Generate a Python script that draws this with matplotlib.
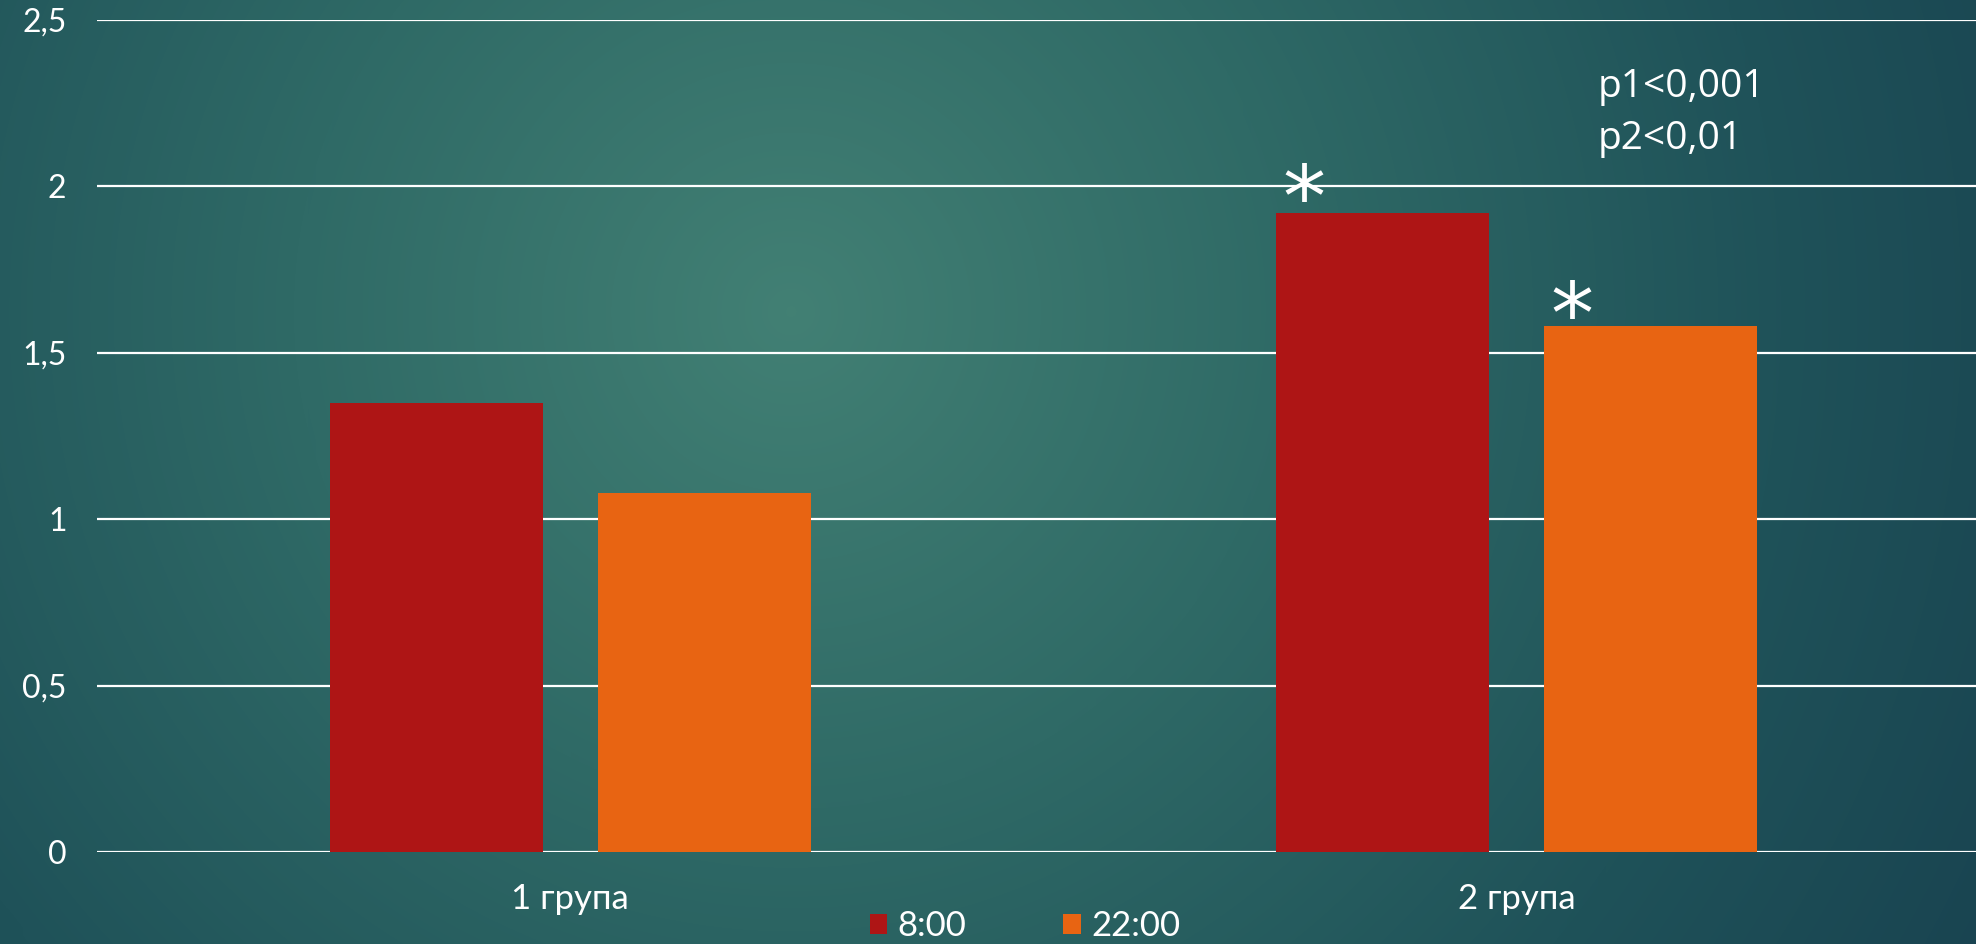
import numpy as np
import matplotlib
matplotlib.use("Agg")
import matplotlib.pyplot as plt
from matplotlib.patches import Patch
from matplotlib.colors import LinearSegmentedColormap

categories = ["1 група", "2 група"]
series_names = ["8:00", "22:00"]
values_8 = [1.35, 1.92]
values_22 = [1.08, 1.58]
colors = ["#AE1515", "#E86412"]
yticks = [0, 0.5, 1, 1.5, 2, 2.5]
ytick_labels = ["0", "0,5", "1", "1,5", "2", "2,5"]
p_lines = ["p1<0,001", "p2<0,01"]

W, H = 1976, 944
fig = plt.figure(figsize=(W / 100, H / 100), dpi=100)

# background radial gradient
bg = fig.add_axes([0, 0, 1, 1], zorder=-10)
yy, xx = np.mgrid[0:H, 0:W]
cx, cy = 0.40 * W, 0.33 * H
r = np.sqrt(((xx - cx) / (0.75 * W)) ** 2 + ((yy - cy) / (0.75 * W)) ** 2)
r = np.clip(r, 0, 1)
cmap = LinearSegmentedColormap.from_list("bg", ["#428074", "#2f6a66", "#1f5259", "#173f4e"])
bg.imshow(r, cmap=cmap, vmin=0, vmax=1, aspect="auto", extent=[0, 1, 0, 1], origin="upper")
bg.axis("off")

font = "Lato"
ax = fig.add_axes([97 / W, (H - 852) / H, 1893 / W, 832 / H])
ax.set_facecolor("none")
x = np.arange(len(categories))
bw = 0.225
off = 0.1416
b1 = ax.bar(x - off, values_8, bw, color=colors[0], zorder=3)
b2 = ax.bar(x + off, values_22, bw, color=colors[1], zorder=3)

ax.set_xlim(-0.5, 1.5)
ax.set_ylim(0, 2.5)
ax.set_yticks(yticks)
ax.set_yticklabels(ytick_labels)
ax.set_xticks(x)
ax.set_xticklabels(categories)
for sp in ax.spines.values():
    sp.set_visible(False)
ax.tick_params(axis="y", length=0, pad=22, labelsize=23, labelcolor="white")
ax.tick_params(axis="x", length=0, pad=22, labelsize=25, labelcolor="white")
for lab in ax.get_xticklabels() + ax.get_yticklabels():
    lab.set_fontfamily(font)
ax.yaxis.grid(True, color="white", linewidth=1.6, zorder=1)
ax.set_axisbelow(True)

# asterisks over group 2 bars
for rect, dy in [(b1[1], 7), (b2[1], 4)]:
    ax.annotate("*", xy=(rect.get_x(), rect.get_height()), xytext=(20, dy),
                textcoords="offset points", ha="center", va="center",
                fontsize=62, color="white", fontfamily="DejaVu Sans")

# p values
fig.text(1598 / W, 1 - 97 / H, p_lines[0], fontsize=28, color="white",
         fontfamily="Open Sans", va="baseline", ha="left")
fig.text(1598 / W, 1 - 149 / H, p_lines[1], fontsize=28, color="white",
         fontfamily="Open Sans", va="baseline", ha="left")

handles = [Patch(facecolor=colors[0]), Patch(facecolor=colors[1])]
leg = fig.legend(handles, series_names, loc="center", bbox_to_anchor=(1025 / W, 1 - 926 / H),
                 ncol=2, frameon=False, handlelength=0.5, handleheight=0.5,
                 handletextpad=0.3, columnspacing=2.8,
                 prop={"family": font, "size": 25})
for t in leg.get_texts():
    t.set_color("white")

fig.savefig("out.png", dpi=100)
